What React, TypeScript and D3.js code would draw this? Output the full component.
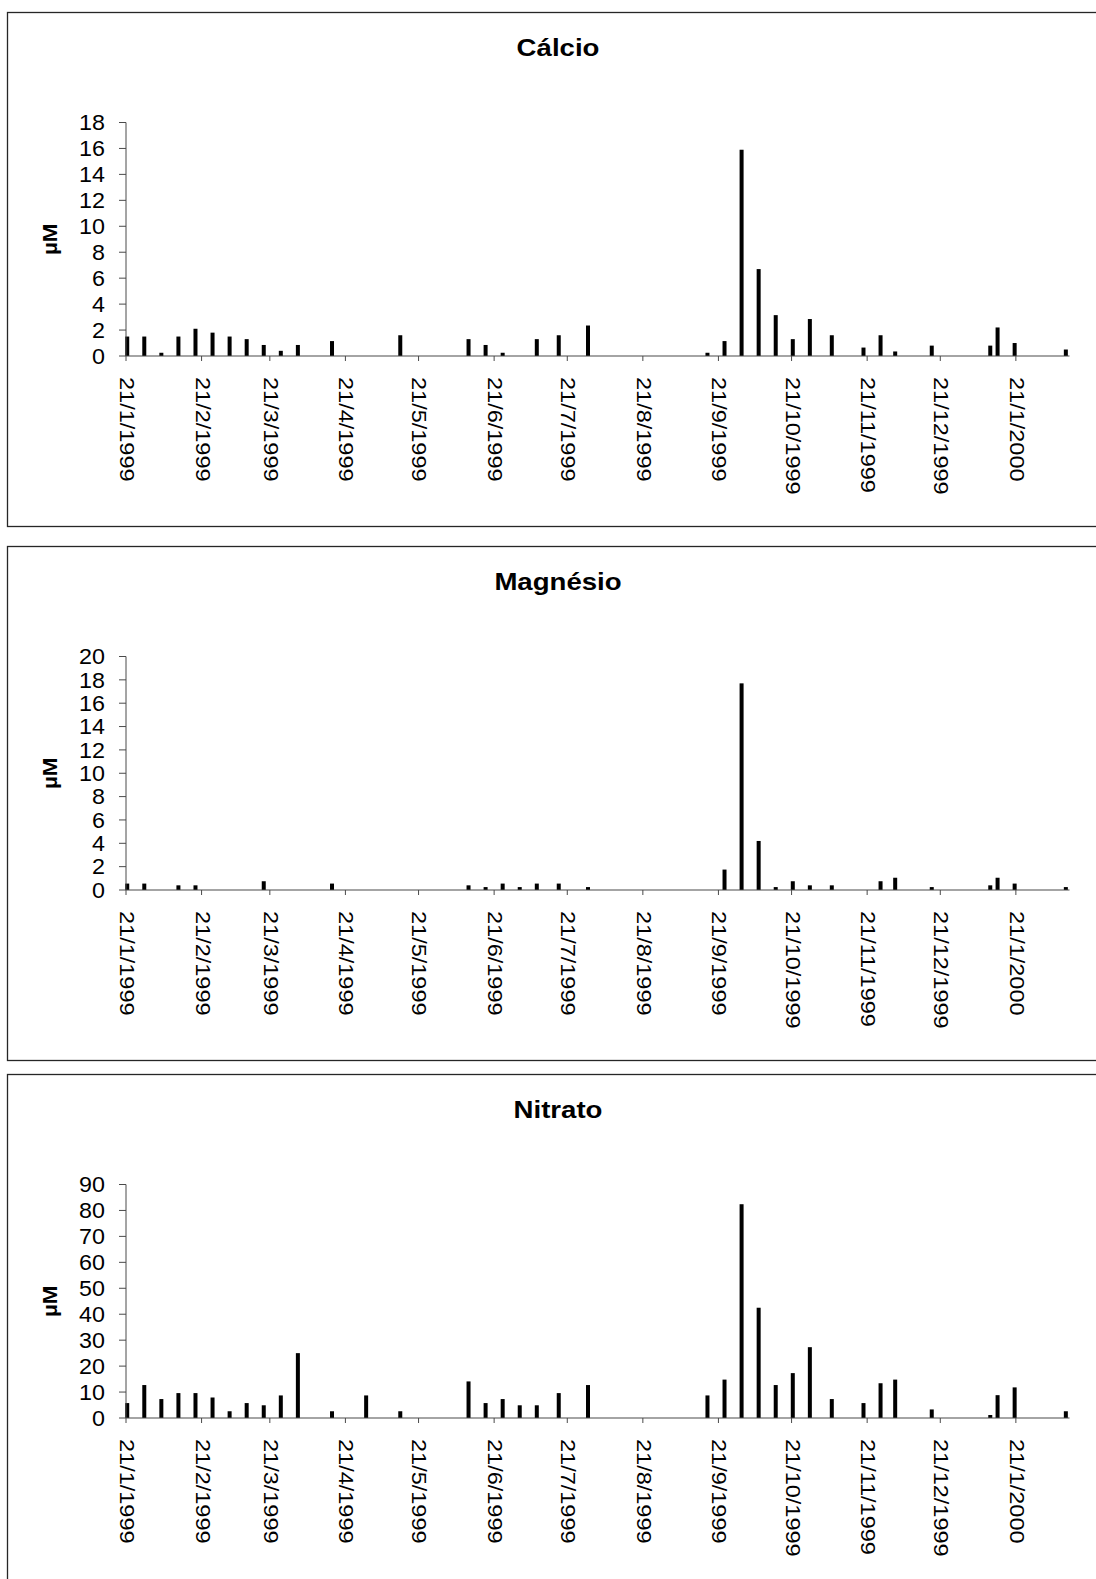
import React from 'react';
import * as d3 from 'd3';

// Sampling dates
const sampleDates = [
  '1999-01-21', '1999-01-28', '1999-02-04', '1999-02-11', '1999-02-18', '1999-02-25',
  '1999-03-04', '1999-03-11', '1999-03-18', '1999-03-25', '1999-04-01', '1999-04-15',
  '1999-04-29', '1999-05-13', '1999-06-10', '1999-06-17', '1999-06-24', '1999-07-01',
  '1999-07-08', '1999-07-17', '1999-07-29', '1999-09-16', '1999-09-23', '1999-09-30',
  '1999-10-07', '1999-10-14', '1999-10-21', '1999-10-28', '1999-11-06', '1999-11-19',
  '1999-11-26', '1999-12-02', '1999-12-17', '2000-01-10', '2000-01-13', '2000-01-20',
  '2000-02-10',
];

const calcio: (number | null)[] = [
  1.5, 1.5, 0.25, 1.5, 2.1, 1.8,
  1.5, 1.3, 0.85, 0.4, 0.85, 1.15,
  null, 1.6, 1.3, 0.85, 0.25, null,
  1.3, 1.6, 2.35, 0.25, 1.15, 15.9,
  6.7, 3.15, 1.3, 2.85, 1.6, 0.65,
  1.6, 0.35, 0.8, 0.8, 2.2, 1.0,
  0.5,
];

const magnesio: (number | null)[] = [
  0.55, 0.55, null, 0.4, 0.4, null,
  null, null, 0.75, null, null, 0.55,
  null, null, 0.4, 0.25, 0.55, 0.25,
  0.55, 0.55, 0.25, null, 1.75, 17.7,
  4.2, 0.25, 0.75, 0.4, 0.4, null,
  0.75, 1.05, 0.25, 0.4, 1.05, 0.55,
  0.25,
];

const nitrato: (number | null)[] = [
  5.75, 12.7, 7.3, 9.6, 9.6, 7.9,
  2.6, 5.75, 4.9, 8.7, 25, 2.6,
  8.7, 2.6, 14.1, 5.75, 7.3, 4.9,
  4.9, 9.6, 12.7, 8.7, 14.8, 82.4,
  42.5, 12.7, 17.3, 27.3, 7.3, 5.75,
  13.4, 14.8, 3.3, 1.15, 8.8, 11.8,
  2.6,
];

const monthTicks = [
  '1999-01-21', '1999-02-21', '1999-03-21', '1999-04-21', '1999-05-21', '1999-06-21',
  '1999-07-21', '1999-08-21', '1999-09-21', '1999-10-21', '1999-11-21', '1999-12-21',
  '2000-01-21',
];
const monthTickLabels = [
  '21/1/1999', '21/2/1999', '21/3/1999', '21/4/1999', '21/5/1999', '21/6/1999',
  '21/7/1999', '21/8/1999', '21/9/1999', '21/10/1999', '21/11/1999', '21/12/1999',
  '21/1/2000',
];

const axisStart = '1999-01-21';
const axisEnd = '2000-02-12';

const calcioTicks = [0, 2, 4, 6, 8, 10, 12, 14, 16, 18];
const magnesioTicks = [0, 2, 4, 6, 8, 10, 12, 14, 16, 18, 20];
const nitratoTicks = [0, 10, 20, 30, 40, 50, 60, 70, 80, 90];

const titles = ['Cálcio', 'Magnésio', 'Nitrato'];
const yLabel = 'µM';

const FONT = '"Liberation Sans", Arial, sans-serif';
const parse = d3.timeParse('%Y-%m-%d');

const AXIS_X = 126;
const X_END = 1069.5;
const PLOT_TOP = 110.5;
const PLOT_BOTTOM = 344;

const xScale = d3
  .scaleTime()
  .domain([parse(axisStart)!, parse(axisEnd)!])
  .range([AXIS_X, X_END]);

type PanelProps = {
  top: number;
  title: string;
  values: (number | null)[];
  ticks: number[];
};

function Panel({ top, title, values, ticks }: PanelProps) {
  const yMax = ticks[ticks.length - 1];
  const y = d3.scaleLinear().domain([0, yMax]).range([top + PLOT_BOTTOM, top + PLOT_TOP]);
  const y0 = y(0);
  const barW = 4;
  const bars = sampleDates
    .map((d, i) => ({ date: parse(d)!, v: values[i] }))
    .filter((b) => b.v !== null) as { date: Date; v: number }[];

  return (
    <g>
      <rect x={7.5} y={top + 0.5} width={1100} height={514} fill="#fff" stroke="#262626" strokeWidth={1.3} />
      <text
        transform={`translate(558,${top + 43.5}) scale(1.2,1)`}
        textAnchor="middle"
        fontFamily={FONT}
        fontWeight="bold"
        fontSize={23}
        fill="#000"
      >
        {title}
      </text>
      <text
        transform={`translate(50,${top + (PLOT_TOP + PLOT_BOTTOM) / 2}) rotate(-90) scale(1.12,1)`}
        textAnchor="middle"
        dominantBaseline="central"
        fontFamily={FONT}
        fontWeight="bold"
        fontSize={20}
        fill="#000"
      >
        {yLabel}
      </text>
      {/* bars */}
      {bars.map((b, i) => {
        const xs = xScale(b.date);
        const xe = xScale(d3.timeDay.offset(b.date, 1));
        const cx = (xs + xe) / 2;
        return (
          <rect key={i} x={cx - barW / 2} y={y(b.v)} width={barW} height={y0 - y(b.v)} fill="#000" />
        );
      })}
      {/* y axis */}
      <line x1={AXIS_X} x2={AXIS_X} y1={y(yMax)} y2={y0} stroke="#4a4a4a" strokeWidth={1} />
      {ticks.map((t) => (
        <g key={t}>
          <line x1={AXIS_X - 7} x2={AXIS_X} y1={y(t)} y2={y(t)} stroke="#4a4a4a" strokeWidth={1} />
          <text
            transform={`translate(105,${y(t)}) scale(1.06,1)`}
            textAnchor="end"
            dominantBaseline="central"
            fontFamily={FONT}
            fontSize={22}
            fill="#000"
          >
            {t}
          </text>
        </g>
      ))}
      {/* x axis */}
      <line x1={AXIS_X} x2={X_END} y1={y0} y2={y0} stroke="#4a4a4a" strokeWidth={1.2} />
      {monthTicks.map((m, i) => {
        const tx = xScale(parse(m)!);
        return (
          <g key={m}>
            <line x1={tx} x2={tx} y1={y0} y2={y0 + 5} stroke="#4a4a4a" strokeWidth={1} />
            <text
              transform={`translate(${tx + 1},${y0 + 21}) rotate(90) scale(1.12,1)`}
              textAnchor="start"
              dominantBaseline="central"
              fontFamily={FONT}
              fontSize={21}
              fill="#000"
            >
              {monthTickLabels[i]}
            </text>
          </g>
        );
      })}
    </g>
  );
}

export default function App() {
  return (
    <svg
      width={1096}
      height={1579}
      style={{ position: 'absolute', left: 0, top: 0, background: '#fff' }}
    >
      <rect x={0} y={0} width={1096} height={1579} fill="#fff" />
      <Panel top={12} title={titles[0]} values={calcio} ticks={calcioTicks} />
      <Panel top={546} title={titles[1]} values={magnesio} ticks={magnesioTicks} />
      <Panel top={1074} title={titles[2]} values={nitrato} ticks={nitratoTicks} />
    </svg>
  );
}
